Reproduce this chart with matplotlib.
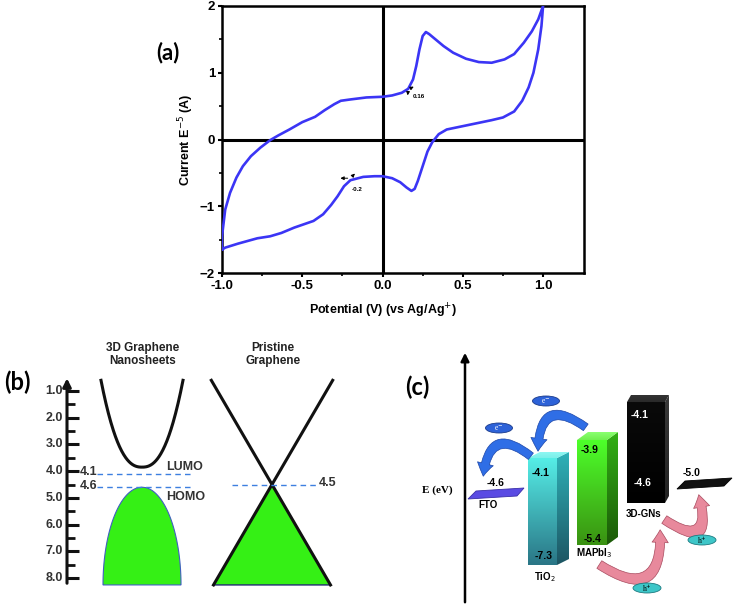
import numpy as np
import matplotlib
matplotlib.use("Agg")
import matplotlib.pyplot as plt
from matplotlib.patches import Polygon, Ellipse, FancyArrowPatch
from matplotlib.colors import LinearSegmentedColormap

plt.rcParams['font.family'] = ['Liberation Sans', 'DejaVu Sans']

W, H = 734, 605

# ── (a) cyclic voltammogram ─────────────────────────────────────────────
cv_fwd_v = [-1.00, -0.98, -0.90, -0.78, -0.70, -0.63, -0.55, -0.49, -0.43, -0.37,
            -0.32, -0.28, -0.24, -0.20, -0.12, -0.05, 0.00, 0.06, 0.11, 0.15,
            0.18, 0.20, 0.22, 0.25, 0.28, 0.31, 0.35, 0.40, 0.50, 0.60,
            0.68, 0.75, 0.82, 0.87, 0.91, 0.94, 0.97, 0.99, 1.00]
cv_fwd_i = [-1.65, -1.62, -1.56, -1.48, -1.45, -1.40, -1.32, -1.27, -1.22, -1.12,
            -0.98, -0.85, -0.70, -0.61, -0.56, -0.55, -0.55, -0.58, -0.64, -0.72,
            -0.77, -0.74, -0.62, -0.40, -0.18, -0.04, 0.08, 0.15, 0.20, 0.25,
            0.29, 0.33, 0.42, 0.58, 0.78, 1.00, 1.35, 1.70, 2.00]
cv_rev_v = [1.00, 0.97, 0.93, 0.88, 0.82, 0.76, 0.68, 0.60, 0.52, 0.44,
            0.38, 0.33, 0.29, 0.27, 0.25, 0.23, 0.21, 0.19, 0.16, 0.12,
            0.06, 0.00, -0.10, -0.20, -0.26, -0.30, -0.36, -0.42, -0.50, -0.58,
            -0.65, -0.70, -0.76, -0.82, -0.87, -0.91, -0.95, -0.98, -0.99, -1.00, -1.00]
cv_rev_i = [2.00, 1.80, 1.62, 1.45, 1.28, 1.20, 1.15, 1.16, 1.21, 1.30,
            1.40, 1.50, 1.58, 1.61, 1.55, 1.35, 1.10, 0.90, 0.76, 0.70,
            0.66, 0.64, 0.63, 0.60, 0.58, 0.53, 0.44, 0.34, 0.26, 0.15,
            0.06, -0.01, -0.12, -0.25, -0.40, -0.57, -0.80, -1.05, -1.25, -1.45, -1.65]
cv_peaks = [(0.16, 0.75, "0.16"), (-0.2, -0.58, "-0.2")]

# ── (b) band diagrams ───────────────────────────────────────────────────
b_ticks = [1.0, 2.0, 3.0, 4.0, 5.0, 6.0, 7.0, 8.0]
gn_lumo, gn_homo = 4.1, 4.6
gn_cb_min = 3.85
pg_dirac = 4.5
band_top, band_bottom = 0.6, 8.26

# ── (c) energy levels ───────────────────────────────────────────────────
c_names = ["TiO$_2$", "MAPbI$_3$", "3D-GNs"]
c_cb = ["-4.1", "-3.9", "-4.1"]
c_vb = ["-7.3", "-5.4", "-4.6"]
fto_level = "-4.6"
hole_level = "-5.0"

fig = plt.figure(figsize=(W / 100, H / 100), dpi=100)


def px_rect(x0, y0, x1, y1):
    return [x0 / W, 1 - y1 / H, (x1 - x0) / W, (y1 - y0) / H]


# ---------------- panel (a)
ax = fig.add_axes(px_rect(222, 6, 584, 273))
ax.plot(cv_fwd_v + cv_rev_v, cv_fwd_i + cv_rev_i, color="#3b35f5", lw=1.9,
        solid_joinstyle="round", zorder=3)
ax.axhline(0, color="black", lw=2.2, zorder=2)
ax.axvline(0, color="black", lw=2.2, zorder=2)
ax.set_xlim(-1.0, 1.255)
ax.set_ylim(-2, 2)
ax.set_xticks([-1.0, -0.5, 0.0, 0.5, 1.0])
ax.set_xticklabels(["-1.0", "-0.5", "0.0", "0.5", "1.0"])
ax.set_xticks([-0.75, -0.25, 0.25, 0.75], minor=True)
ax.set_yticks([-2, -1, 0, 1, 2])
ax.set_yticks([-1.5, -0.5, 0.5, 1.5], minor=True)
ax.tick_params(which="major", direction="out", length=3, width=1.5, labelsize=9.5, pad=2)
ax.tick_params(which="minor", direction="out", length=2, width=1.2)
for lab in ax.get_xticklabels() + ax.get_yticklabels():
    lab.set_fontweight("bold")
for s in ax.spines.values():
    s.set_linewidth(1.8)

for (xv, yv, txt) in cv_peaks:
    if xv > 0:
        ax.annotate("", xy=(xv + 0.05, yv + 0.06), xytext=(xv, yv),
                    arrowprops=dict(arrowstyle="-|>", lw=0.7, color="black", mutation_scale=5))
        ax.annotate("", xy=(xv - 0.005, yv - 0.13), xytext=(xv, yv),
                    arrowprops=dict(arrowstyle="-|>", lw=0.7, color="black", mutation_scale=5))
        ax.text(xv + 0.03, yv - 0.1, txt, fontsize=4.5, fontweight="bold", va="center")
    else:
        ax.annotate("", xy=(xv - 0.08, yv), xytext=(xv, yv),
                    arrowprops=dict(arrowstyle="-|>", lw=0.7, color="black", mutation_scale=5))
        ax.annotate("", xy=(xv + 0.04, yv + 0.1), xytext=(xv, yv),
                    arrowprops=dict(arrowstyle="-|>", lw=0.7, color="black", mutation_scale=5))
        ax.text(xv + 0.01, yv - 0.17, txt, fontsize=4.5, fontweight="bold", va="center")

fig.text(383 / W, 1 - 311 / H, "Potential (V) (vs Ag/Ag$^{+}$)", ha="center", va="center",
         fontsize=9, fontweight="bold")
fig.text(186 / W, 1 - 140 / H, "Current E$^{-5}$ (A)", ha="center", va="center",
         rotation=90, fontsize=9, fontweight="bold")
fig.text(168 / W, 1 - 53 / H, "(a)", ha="center", va="center", fontsize=16,
         fontweight="bold", family=["Lato", "DejaVu Sans"])

# ---------------- panel (b)
e_lo, e_hi = 1 - (391 - 330) / 26.71, 8 + (605 - 578) / 26.71
bx = fig.add_axes(px_rect(0, 330, 370, 605))
bx.set_xlim(0, 370)
bx.set_ylim(e_hi, e_lo)
bx.axis("off")

axis_x = 67
bx.annotate("", xy=(axis_x, 0.42), xytext=(axis_x, 8.3),
            arrowprops=dict(arrowstyle="-|>", lw=2.2, color="#111111", mutation_scale=12))
for t in b_ticks:
    bx.plot([axis_x, axis_x + 12], [t, t], color="#111111", lw=2.2, solid_capstyle="butt")
    bx.text(axis_x - 4, t, f"{t:.1f}", ha="right", va="center", fontsize=9,
            fontweight="bold", color="#333333")
for t in np.array(b_ticks[:-1]) + 0.5:
    bx.plot([axis_x, axis_x + 8], [t, t], color="#111111", lw=2.0, solid_capstyle="butt")

# 3D graphene nanosheets
gx0, ghalf = 142, 41
xs = np.linspace(-1, 1, 200)
bx.plot(gx0 + ghalf * xs, gn_cb_min - (gn_cb_min - band_top) * np.abs(xs) ** 2.4,
        color="#111111", lw=2.2)
t = np.linspace(0, 1, 200)
dome_half = 39 * np.sqrt(1 - t ** 2)
dome_e = band_bottom - (band_bottom - gn_homo) * t
dome_x = np.concatenate([gx0 - dome_half, (gx0 + dome_half)[::-1]])
dome_y = np.concatenate([dome_e, dome_e[::-1]])
bx.fill(dome_x, dome_y, facecolor="#35f015", edgecolor="#3f5fc0", lw=0.8)
for lev, txt in [(gn_lumo, "4.1"), (gn_homo, "4.6")]:
    bx.plot([97, 193], [lev, lev], color="#3d7fe0", lw=1.0, ls=(0, (4, 3)))
    bx.text(89, lev - 0.05, txt, ha="center", va="center", fontsize=9,
            fontweight="bold", color="#333333")
bx.text(166, gn_lumo - 0.27, "LUMO", ha="left", va="center", fontsize=9,
        fontweight="bold", color="#333333")
bx.text(166, gn_homo + 0.36, "HOMO", ha="left", va="center", fontsize=9,
        fontweight="bold", color="#333333")
bx.text(143, -0.35, "3D Graphene\nNanosheets", ha="center", va="center",
        fontsize=8.5, fontweight="bold", color="#222222", linespacing=1.1)

# pristine graphene
px0 = 272
slope = (330 - 213) / 2 / (band_bottom - pg_dirac)
top_dx = slope * (pg_dirac - band_top)
bot_dx = slope * (band_bottom - pg_dirac)
bx.fill([px0 - bot_dx, px0, px0 + bot_dx], [band_bottom, pg_dirac, band_bottom],
        facecolor="#35f015", edgecolor="#1f2a70", lw=1.0, zorder=2)
bx.plot([px0 - top_dx, px0 + bot_dx], [band_top, band_bottom], color="#111111", lw=2.2, zorder=3)
bx.plot([px0 + top_dx, px0 - bot_dx], [band_top, band_bottom], color="#111111", lw=2.2, zorder=3)
bx.plot([232, 317], [pg_dirac, pg_dirac], color="#3d7fe0", lw=1.0, ls=(0, (4, 3)), zorder=4)
bx.text(319, pg_dirac - 0.05, "4.5", ha="left", va="center", fontsize=9,
        fontweight="bold", color="#333333")
bx.text(273, -0.35, "Pristine\nGraphene", ha="center", va="center",
        fontsize=8.5, fontweight="bold", color="#222222", linespacing=1.1)
bx.text(17, 0.66, "(b)", ha="center", va="center", fontsize=17,
        fontweight="bold", family=["Lato", "DejaVu Sans"])

# ---------------- panel (c)
cx = fig.add_axes(px_rect(370, 330, 734, 605))


def grad_poly(verts, c_top, c_bot, z):
    poly = Polygon(verts, closed=True, facecolor="none", edgecolor="none")
    cx.add_patch(poly)
    vx = [v[0] for v in verts]
    vy = [v[1] for v in verts]
    cmap = LinearSegmentedColormap.from_list("g", [c_top, c_bot])
    im = cx.imshow(np.linspace(0, 1, 64).reshape(-1, 1), cmap=cmap, aspect="auto",
                   extent=[min(vx), max(vx), max(vy), min(vy)], zorder=z,
                   interpolation="bilinear")
    im.set_clip_path(poly)


def box3d(x0, x1, ytop, ybot, dx, dy, front, side, top, z=2):
    grad_poly([(x0, ytop), (x1, ytop), (x1, ybot), (x0, ybot)], front[0], front[1], z)
    grad_poly([(x1, ytop), (x1 + dx, ytop + dy), (x1 + dx, ybot + dy), (x1, ybot)],
              side[0], side[1], z)
    grad_poly([(x0, ytop), (x0 + dx, ytop + dy), (x1 + dx, ytop + dy), (x1, ytop)],
              top[0], top[1], z)


bar_x = [(528, 557), (577, 607), (627, 665)]
bar_y = [(458, 565), (440, 545), (402, 503)]
bar_d = [(12, -6), (11, -8), (4, -7)]
bar_front = [("#55ede6", "#2a7686"), ("#4dff2a", "#3a9212"), ("#0a0a0a", "#000000")]
bar_side = [("#2fb2b8", "#1d5563"), ("#32b015", "#1c5a08"), ("#3a3a3a", "#222222")]
bar_top = [("#8ff7f2", "#7af0ea"), ("#8aff70", "#70f050"), ("#333333", "#2a2a2a")]
bar_txt = ["black", "black", "white"]
cb_y = [473, 450, 415]
vb_y = [556, 539, 483]
name_y = [577, 553, 514]

for i in range(3):
    (x0, x1), (yt, yb), (dx, dy) = bar_x[i], bar_y[i], bar_d[i]
    box3d(x0, x1, yt, yb, dx, dy, bar_front[i], bar_side[i], bar_top[i])
    cx.text(x0 + 13, cb_y[i], c_cb[i], ha="center", va="center", fontsize=7.5,
            fontweight="bold", color=bar_txt[i], zorder=5)
    cx.text(x0 + 16, vb_y[i], c_vb[i], ha="center", va="center", fontsize=7.5,
            fontweight="bold", color=bar_txt[i], zorder=5)
    cx.text(x0 + 17, name_y[i], c_names[i], ha="center", va="center", fontsize=7,
            fontweight="bold", color="black", zorder=5)

# FTO and hole level plates
cx.add_patch(Polygon([(468, 499), (517, 496), (524, 488), (476, 491)], closed=True,
                     facecolor="#5a4be3", edgecolor="#3a2fa8", lw=0.6, zorder=2))
cx.text(496, 483, fto_level, ha="center", va="center", fontsize=7.5, fontweight="bold")
cx.text(488, 505, "FTO", ha="center", va="center", fontsize=7, fontweight="bold")
cx.add_patch(Polygon([(677, 489), (724, 486), (732, 478), (685, 481)], closed=True,
                     facecolor="#111111", edgecolor="#000000", lw=0.6, zorder=2))
cx.text(692, 473, hole_level, ha="center", va="center", fontsize=7.5, fontweight="bold")

# energy axis
cx.annotate("", xy=(465, 350), xytext=(465, 605),
            arrowprops=dict(arrowstyle="-|>", lw=1.8, color="black", mutation_scale=12))
cx.text(437, 490, "E (eV)", ha="center", va="center", fontsize=8, fontweight="bold",
        family=["Liberation Serif", "DejaVu Serif"])
cx.text(417, 387, "(c)", ha="center", va="center", fontsize=17, fontweight="bold",
        family=["Lato", "DejaVu Sans"])

# electron transfer arrows
for (a, b, rad) in [((533, 458), (483, 479), 0.95), ((588, 429), (538, 454), 1.0)]:
    cx.add_patch(FancyArrowPatch(a, b, connectionstyle=f"arc3,rad={rad}",
                                 arrowstyle="simple,head_length=0.7,head_width=0.9,tail_width=0.45",
                                 mutation_scale=13, facecolor="#2f6ee6", edgecolor="#1c46a8",
                                 lw=0.5, zorder=4))
for (xy, lab) in [((499, 428), "e$^{-}$"), ((546, 401), "e$^{-}$")]:
    cx.add_patch(Ellipse(xy, 27, 10, facecolor="#2d62d8", edgecolor="#1a3a8a", lw=0.6, zorder=5))
    cx.text(xy[0], xy[1], lab, ha="center", va="center", fontsize=5.5, color="white",
            family=["Liberation Serif", "DejaVu Serif"], zorder=6)

# hole transfer arrows
for (a, b, rad) in [((597, 563), (660, 527), 1.0), ((662, 518), (698, 492), 1.4)]:
    cx.add_patch(FancyArrowPatch(a, b, connectionstyle=f"arc3,rad={rad}",
                                 arrowstyle="simple,head_length=0.7,head_width=0.9,tail_width=0.5",
                                 mutation_scale=13, facecolor="#e8899c", edgecolor="#a84a5e",
                                 lw=0.5, zorder=4))
for xy in [(647, 588), (702, 540)]:
    cx.add_patch(Ellipse(xy, 28, 10, facecolor="#3ec6c8", edgecolor="#1c7a80", lw=0.6, zorder=5))
    cx.text(xy[0], xy[1], "h$^{+}$", ha="center", va="center", fontsize=5.5, color="black",
            family=["Liberation Serif", "DejaVu Serif"], zorder=6)

cx.set_xlim(370, 734)
cx.set_ylim(605, 330)
cx.axis("off")

fig.savefig("out.png", dpi=100)
